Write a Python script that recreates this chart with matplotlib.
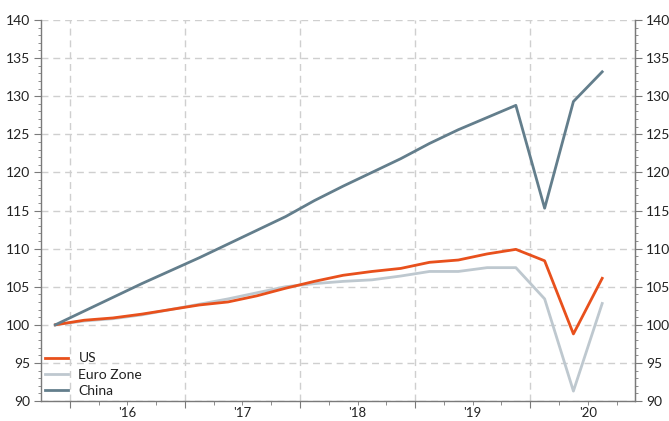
import matplotlib
matplotlib.use("Agg")
import matplotlib.pyplot as plt
from matplotlib.ticker import FixedLocator, FixedFormatter, MultipleLocator

plt.rcParams["font.family"] = ["Lato", "DejaVu Sans"]

quarters = ["2015Q4",
            "2016Q1", "2016Q2", "2016Q3", "2016Q4",
            "2017Q1", "2017Q2", "2017Q3", "2017Q4",
            "2018Q1", "2018Q2", "2018Q3", "2018Q4",
            "2019Q1", "2019Q2", "2019Q3", "2019Q4",
            "2020Q1", "2020Q2", "2020Q3"]

us = [100.0, 100.6, 100.9, 101.4, 102.0, 102.6, 103.0, 103.8, 104.8, 105.7,
      106.5, 107.0, 107.4, 108.2, 108.5, 109.3, 109.9, 108.4, 98.8, 106.1]
euro = [100.0, 100.5, 100.8, 101.3, 102.0, 102.7, 103.4, 104.2, 105.0, 105.4,
        105.7, 105.9, 106.4, 107.0, 107.0, 107.5, 107.5, 103.4, 91.3, 102.8]
china = [100.0, 101.8, 103.6, 105.4, 107.1, 108.8, 110.6, 112.4, 114.2, 116.3,
         118.2, 120.0, 121.8, 123.8, 125.6, 127.2, 128.8, 115.3, 129.3, 133.2]

years = [2016, 2017, 2018, 2019, 2020]
year_labels = ["'16", "'17", "'18", "'19", "'20"]

US_C = "#e8501c"
EURO_C = "#bec8cf"
CHINA_C = "#637e8c"
AXIS_C = "#7a7a7a"
GRID_C = "#cfcfcf"
TEXT_C = "#222222"


def q_to_x(q):
    # quarter midpoint in decimal years
    y, n = int(q[:4]), int(q[-1])
    return y + (n - 1) * 0.25 + 0.125


xs = [q_to_x(q) for q in quarters]

fig = plt.figure(figsize=(6.69, 4.21), dpi=100)
ax = fig.add_axes([41 / 669, 1 - 401 / 421, (635 - 41) / 669, (401 - 20) / 421])

ax.plot(xs, us, color=US_C, lw=2.0, label="US", zorder=3)
ax.plot(xs, euro, color=EURO_C, lw=2.0, label="Euro Zone", zorder=2)
ax.plot(xs, china, color=CHINA_C, lw=2.0, label="China", zorder=3)

ax.set_xlim(2015.75, 2020.91)
ax.set_ylim(90, 140)

ax.set_yticks(range(90, 141, 5))
ax.yaxis.set_minor_locator(MultipleLocator(1))
ax.set_xticks(years)
ax.set_xticklabels([])

# quarter ticks, year labels sit on the mid-year ones
quarter_ticks = [y + f for y in range(2015, 2021) for f in (0.25, 0.5, 0.75)]
quarter_ticks = [t for t in quarter_ticks if 2015.75 < t < 2020.91]
ax.xaxis.set_minor_locator(FixedLocator(quarter_ticks))
ax.xaxis.set_minor_formatter(FixedFormatter(
    [year_labels[years.index(int(t))] if abs(t - int(t) - 0.5) < 1e-6 else "" for t in quarter_ticks]))

ax.grid(True, which="major", color=GRID_C, lw=1.0, ls=(0, (5, 3.5)), zorder=0)

ax.spines["top"].set_visible(False)
for s in ["left", "bottom", "right"]:
    ax.spines[s].set_color(AXIS_C)
    ax.spines[s].set_linewidth(1.0)

ax.tick_params(axis="both", which="both", direction="out", colors=AXIS_C, labelcolor=TEXT_C,
               labelsize=10)
ax.tick_params(axis="x", which="major", length=5)
ax.tick_params(axis="x", which="minor", length=3, pad=1.5, labelsize=9.5)
ax.tick_params(axis="y", which="major", length=5, pad=3)
ax.tick_params(axis="y", which="minor", length=2.5)

ax2 = ax.twinx()
ax2.set_ylim(90, 140)
ax2.set_yticks(range(90, 141, 5))
ax2.yaxis.set_minor_locator(MultipleLocator(1))
for s in ["top", "left", "bottom"]:
    ax2.spines[s].set_visible(False)
ax2.spines["right"].set_color(AXIS_C)
ax2.tick_params(axis="y", which="both", direction="out", colors=AXIS_C, labelcolor=TEXT_C,
                labelsize=10)
ax2.tick_params(axis="y", which="major", length=5, pad=3)
ax2.tick_params(axis="y", which="minor", length=2.5)

leg = ax.legend(loc="lower left", frameon=False, fontsize=10, handlelength=1.65,
                handletextpad=0.75, labelspacing=0.3, borderpad=0, borderaxespad=0.3)
for t in leg.get_texts():
    t.set_color(TEXT_C)

fig.savefig("out.png", dpi=100, facecolor="white")
